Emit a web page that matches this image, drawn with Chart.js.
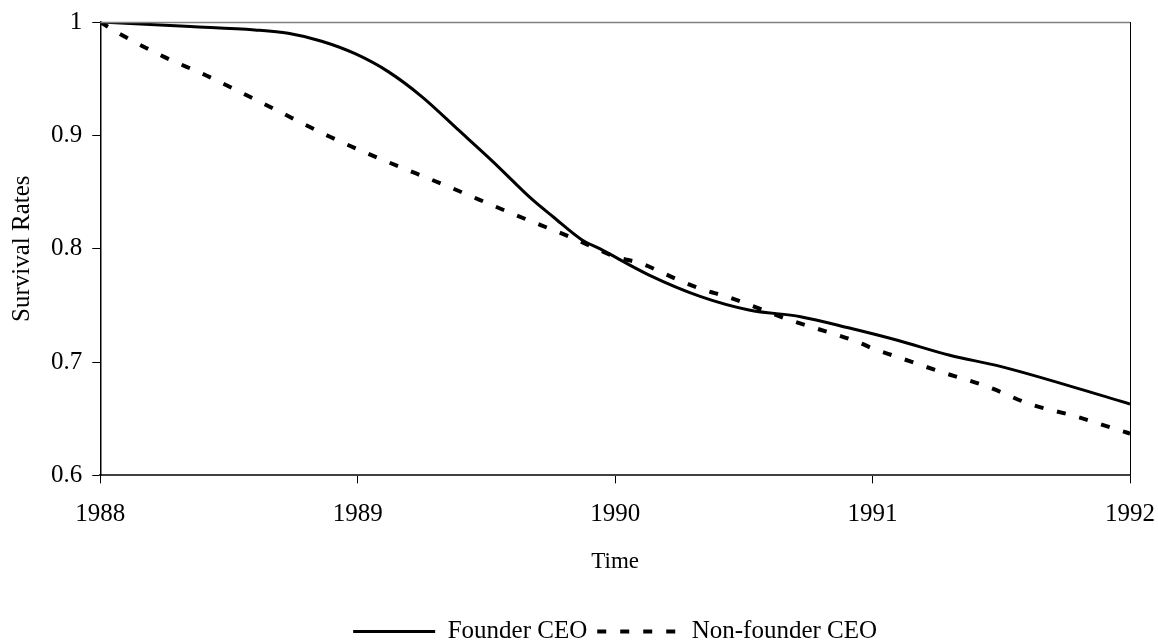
<!DOCTYPE html>
<html>
<head>
<meta charset="utf-8">
<script src="https://cdn.jsdelivr.net/npm/chart.js@4.4.1/dist/chart.umd.min.js"></script>
<style>
  html, body { margin: 0; padding: 0; background: #fff; }
  #wrap { width: 1158px; height: 640px; }
</style>
</head>
<body>
<div id="wrap"><canvas id="chartCanvas" width="1158" height="640"></canvas></div>
<script>
// values (year, survival rate)
const founderYears = [1988, 1988.35, 1988.6, 1988.73, 1988.86, 1988.99, 1989.12, 1989.25, 1989.39, 1989.52,
  1989.68, 1989.76, 1989.87, 1989.94, 1990.13, 1990.33, 1990.52, 1990.72, 1990.91, 1991.1, 1991.3, 1991.5, 1992];
const founderRates = [1.0, 0.996, 0.993, 0.990, 0.983, 0.972, 0.956, 0.934, 0.905, 0.878,
  0.843, 0.828, 0.808, 0.800, 0.777, 0.758, 0.746, 0.740, 0.730, 0.719, 0.706, 0.696, 0.663];

const nonFounderYears = [1988, 1988.08, 1988.25, 1988.41, 1988.66, 1988.89, 1989.08, 1989.35, 1989.6, 1989.85,
  1990.0, 1990.1, 1990.25, 1990.34, 1990.43, 1990.68, 1990.95, 1991.0, 1991.09, 1991.27, 1991.45,
  1991.61, 1991.79, 1991.97, 1992];
const nonFounderRates = [1.0, 0.989, 0.969, 0.953, 0.925, 0.899, 0.880, 0.855, 0.831, 0.808,
  0.793, 0.787, 0.772, 0.764, 0.758, 0.737, 0.717, 0.712, 0.705, 0.691, 0.678,
  0.663, 0.652, 0.639, 0.637];

const xTicks = [1988, 1989, 1990, 1991, 1992];
const yTicks = [0.6, 0.7, 0.8, 0.9, 1];

const seriesNames = ["Founder CEO", "Non-founder CEO"];

function toPoints(xs, ys) {
  return xs.map((x, i) => ({ x: x, y: ys[i] }));
}

// top and right frame of the plot box
const frameLines = {
  id: "frameLines",
  afterDraw(chart) {
    const a = chart.chartArea;
    const ctx = chart.ctx;
    ctx.save();
    ctx.lineWidth = 1.5;
    ctx.strokeStyle = "#808080";
    ctx.beginPath();
    ctx.moveTo(a.left, a.top + 0.5);
    ctx.lineTo(a.right, a.top + 0.5);
    ctx.stroke();
    ctx.lineWidth = 1;
    ctx.strokeStyle = "#000";
    ctx.beginPath();
    ctx.moveTo(a.right + 0.5, a.top);
    ctx.lineTo(a.right + 0.5, a.bottom);
    ctx.stroke();
    ctx.restore();
  }
};

// centre the legend under the plot area, not the whole canvas
const legendUnderPlot = {
  id: "legendUnderPlot",
  afterLayout(chart) {
    if (chart.legend) {
      chart.legend.left = chart.chartArea.left;
      chart.legend.right = chart.chartArea.right;
    }
  }
};

const serif = "'Liberation Serif', 'Times New Roman', serif";
Chart.defaults.font.family = serif;
Chart.defaults.color = "#000";

new Chart(document.getElementById("chartCanvas").getContext("2d"), {
  type: "line",
  data: {
    datasets: [{
      label: seriesNames[0],
      data: toPoints(founderYears, founderRates),
      borderColor: "#000",
      backgroundColor: "#000",
      borderWidth: 3,
      pointRadius: 0,
      cubicInterpolationMode: "monotone"
    }, {
      label: seriesNames[1],
      data: toPoints(nonFounderYears, nonFounderRates),
      borderColor: "#000",
      backgroundColor: "#000",
      borderWidth: 4,
      borderDash: [9, 14],
      pointRadius: 0,
      cubicInterpolationMode: "monotone"
    }]
  },
  options: {
    responsive: false,
    animation: false,
    layout: { padding: { left: 0, right: 0, top: 0, bottom: -14 } },
    plugins: {
      tooltip: { enabled: false },
      legend: {
        position: "bottom",
        labels: {
          usePointStyle: true,
          pointStyleWidth: 82,
          padding: 10,
          font: { size: 25, family: serif },
          color: "#000",
          // line samples with the same dash and width as the series
          generateLabels: chart => chart.data.datasets.map((ds, i) => ({
            text: ds.label,
            datasetIndex: i,
            hidden: false,
            pointStyle: "line",
            strokeStyle: "#000",
            fillStyle: "#000",
            lineWidth: ds.borderWidth,
            lineDash: ds.borderDash || [],
            fontColor: "#000"
          }))
        }
      }
    },
    scales: {
      x: {
        type: "linear",
        min: xTicks[0],
        max: xTicks[xTicks.length - 1],
        afterBuildTicks: axis => { axis.ticks = xTicks.map(v => ({ value: v })); },
        afterFit: axis => { axis.paddingRight = 28; },
        ticks: {
          padding: 16,
          font: { size: 25 },
          callback: v => String(v),
          maxRotation: 0
        },
        grid: { drawOnChartArea: false, tickLength: 8, color: "#000", tickColor: "#000" },
        border: { color: "#404040", width: 2 },
        title: {
          display: true,
          text: "Time",
          font: { size: 23 },
          padding: { top: 2.5, bottom: 33.5 }
        }
      },
      y: {
        min: yTicks[0],
        max: yTicks[yTicks.length - 1],
        afterBuildTicks: axis => { axis.ticks = yTicks.map(v => ({ value: v })); },
        afterFit: axis => { axis.paddingTop = 22; },
        ticks: {
          padding: 10,
          font: { size: 25 },
          callback: v => String(Math.round(v * 10) / 10)
        },
        grid: { drawOnChartArea: false, tickLength: 8, tickColor: "#000" },
        border: { color: "#000", width: 1.5 },
        title: {
          display: true,
          text: "Survival Rates",
          font: { size: 25 },
          padding: { top: 7, bottom: 4 }
        }
      }
    }
  },
  plugins: [frameLines, legendUnderPlot]
});
</script>
</body>
</html>
